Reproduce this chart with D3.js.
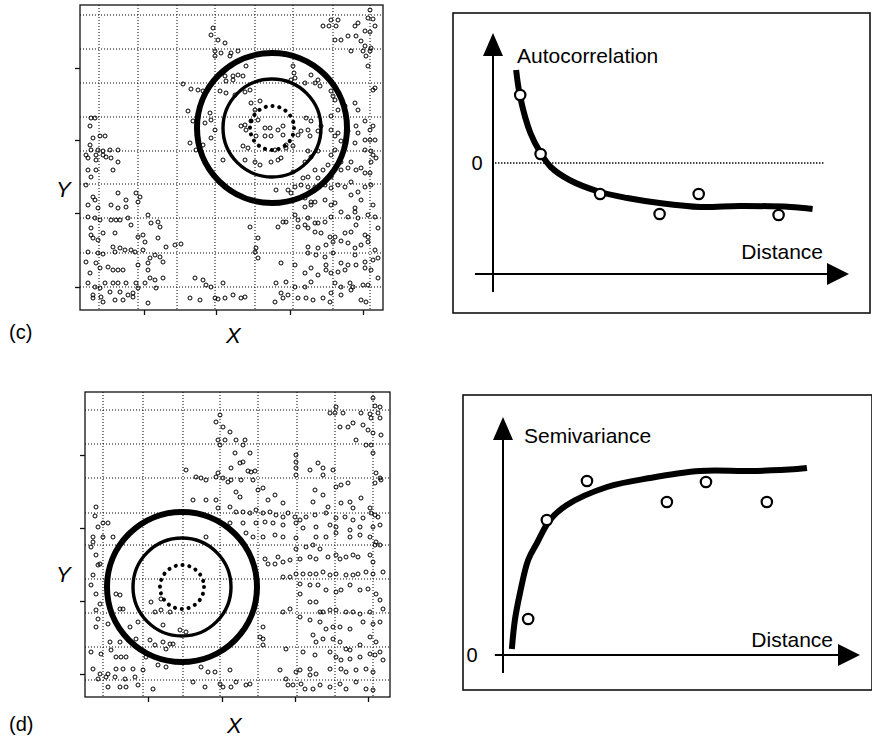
<!DOCTYPE html>
<html>
<head>
<meta charset="utf-8">
<script src="https://cdn.jsdelivr.net/npm/d3@7"></script>
<style>
body { margin: 0; background: #fff; }
svg { display: block; font-family: "Liberation Sans", Arial, Helvetica, sans-serif; }
</style>
</head>
<body>
<svg width="872" height="751"></svg>
<script>
// ---- data: point locations (X, Y) for panel (c)
var pointsC = [
 [290,300],[251,290],[258,290],[288,292],[293,291],[243,284],[249,284],[256,284],[275,284],[285,279],
 [290,278],[295,284],[278,287],[255,270],[261,270],[268,274],[276,274],[281,269],[285,264],[291,262],
 [283,259],[286,254],[290,259],[271,259],[288,244],[295,222],[293,220],[133,282],[131,275],[138,270],
 [145,267],[135,259],[135,254],[141,257],[151,257],[158,259],[150,254],[166,244],[158,235],[163,234],
 [153,234],[146,229],[145,234],[153,230],[103,226],[111,221],[118,220],[123,219],[140,219],[146,217],
 [155,215],[165,218],[170,220],[213,244],[214,237],[215,232],[211,230],[231,235],[235,227],[238,230],
 [240,224],[225,227],[251,219],[255,210],[253,214],[278,200],[265,204],[258,200],[275,207],[180,209],
 [171,207],[175,200],[178,190],[171,189],[165,185],[161,184],[166,180],[185,182],[190,182],[198,180],
 [203,184],[203,175],[191,174],[185,174],[176,174],[163,164],[168,162],[206,165],[213,164],[218,175],
 [221,179],[228,180],[230,174],[238,179],[241,184],[251,194],[226,192],[231,189],[206,162],[195,160],
 [108,199],[113,189],[125,187],[130,197],[131,190],[135,180],[131,172],[110,167],[123,165],[116,160],
 [251,180],[255,174],[258,177],[261,169],[268,179],[276,184],[278,177],[275,167],[285,189],[290,180],
 [293,184],[285,170],[290,170],[295,170],[285,160],[291,159],[293,155],[255,160],[251,155],[238,159],
 [228,159],[11,192],[15,192],[10,184],[13,172],[20,174],[25,174],[10,165],[11,160],[18,160],
 [23,159],[30,160],[38,160],[6,155],[16,155],[23,155],
 [8,152],[16,150],[26,153],[31,152],[38,148],[33,140],[8,140],[16,140],[11,133],[6,125],
 [13,113],[15,110],[8,105],[18,102],[31,105],[38,102],[38,117],[46,110],[46,103],[58,108],
 [56,117],[60,113],[48,92],[51,85],[8,93],[15,92],[20,90],[31,90],[36,90],[40,90],
 [68,95],[71,87],[78,88],[80,83],[11,82],[11,75],[13,72],[18,70],[23,77],[35,77],
 [58,73],[63,75],[65,68],[78,72],[86,63],[95,65],[101,66],[8,58],[18,57],[23,56],
 [33,63],[35,58],[40,62],[45,60],[51,60],[55,58],[63,60],[75,55],[80,53],[70,52],
 [68,47],[83,48],[6,48],[16,47],[10,37],[20,42],[28,43],[33,40],[38,40],[43,40],
 [58,45],[68,40],[70,32],[75,30],[83,32],[8,27],[15,23],[20,22],[25,27],[33,27],
 [38,27],[46,27],[56,27],[65,27],[76,22],[13,15],[21,13],[30,18],[40,18],[48,15],
 [53,17],[58,22],[13,12],[23,8],[35,10],[43,10],[53,13],[68,7],[115,32],[123,30],
 [126,25],[131,23],[143,27],[110,12],[120,10],[135,12],[138,11],[145,12],[153,15],[161,12],
 [165,13],[170,83],[178,72],[176,62],[175,58],[178,52],[195,8],[201,17],[203,12],[196,27],
 [206,28],[198,83],[203,88],[206,88],[215,95],[218,90],[228,92],[225,85],[235,87],[238,87],
 [245,88],[251,93],[261,98],[268,93],[275,98],[278,92],[288,95],[295,93],[218,83],[228,82],
 [235,78],[241,77],[250,73],[255,73],[265,77],[271,78],[276,85],[285,75],[288,73],[298,82],
 [228,63],[238,62],[246,65],[253,68],[261,69],[268,67],[275,62],[281,65],[288,68],[295,60],
 [298,52],[228,57],[236,55],[245,53],[253,57],[261,47],[268,45],[275,55],[285,48],[293,50],
 [201,47],[215,45],[231,42],[246,45],[251,37],[258,38],[265,40],[276,45],[285,42],[291,40],
 [298,32],[225,37],[238,35],[246,40],[231,28],[215,23],[225,23],[255,27],[261,23],[270,27],
 [273,23],[283,25],[288,25],[208,15],[218,12],[226,12],[233,10],[243,12],[251,17],[261,15],
 [271,20],[281,10],[286,8],[250,8],
 [196,120],[208,120],[211,117],[215,123],[221,125],[228,123],[235,123],[245,125],[251,122],[258,125],
 [265,123],[271,115],[278,118],[285,123],[291,125],[225,112],[231,108],[235,108],[245,110],[251,105],
 [255,107],[275,102],[281,110],[293,105],[225,103],[231,105],[235,140],[243,140],[248,145],[261,140],
 [268,142],[276,140],[281,142],[285,137],[290,137],[291,148],[296,152],[271,148],[261,148],[225,148],
 [198,150],[201,152],[143,150],[165,150],[175,148],[180,145],[191,148],[213,138],[223,132],[228,133],
 [238,132],[251,133],[271,128],[231,153]
];

// ---- data: point locations (X, Y) for panel (d)
var pointsD = [
 [288,299],[290,291],[295,290],[251,290],[245,284],[250,284],[258,284],[276,284],[285,283],[293,284],
 [286,279],[295,279],[255,270],[263,270],[268,274],[278,272],[283,267],[288,264],[296,262],[271,257],
 [281,252],[286,252],[288,244],[291,224],[295,219],[290,214],[135,282],[131,275],[138,270],[145,265],
 [133,257],[135,252],[140,257],[151,257],[160,257],[158,252],[165,244],[150,244],[155,234],[146,229],
 [158,235],[163,226],[166,225],[170,226],[101,227],[111,220],[116,219],[121,217],[131,220],[133,224],
 [138,219],[143,215],[146,217],[156,217],[168,217],[173,207],[178,209],[151,205],[155,200],[190,202],
 [183,197],[198,194],[211,242],[211,235],[211,229],[211,222],[225,227],[233,234],[238,229],[248,227],
 [238,222],[251,210],[256,212],[263,214],[230,207],[238,202],[228,195],[243,190],[256,194],[265,195],
 [268,189],[276,199],[285,189],[290,182],[293,180],[296,217],[108,197],[121,197],[131,197],[133,189],
 [145,190],[151,185],[158,185],[165,184],[171,187],[178,184],[185,185],[191,182],[198,180],[203,184],
 [210,180],[215,177],[221,180],[230,182],[241,184],[251,179],[260,180],[268,177],[278,179],[286,184],
 [145,174],[158,174],[171,174],[180,175],[188,174],[198,172],[211,174],[218,169],[231,170],[245,172],
 [251,170],[265,167],[275,170],[288,170],[295,172],[161,164],[168,160],[178,160],[190,162],[198,160],
 [211,159],[231,160],[241,160],[251,164],[265,160],[275,162],[285,160],[291,155],[121,160],[11,190],
 [10,181],[18,174],[23,174],[13,170],[8,160],[18,160],[28,160],[8,155],
 [6,150],[11,142],[15,133],[13,132],[8,122],[6,112],[11,103],[15,93],[11,87],[13,78],
 [11,70],[23,73],[25,55],[35,55],[6,45],[16,43],[26,47],[31,40],[36,40],[41,40],
 [8,28],[15,23],[23,23],[31,28],[38,28],[48,28],[58,27],[13,18],[21,20],[30,20],
 [40,18],[50,20],[23,10],[35,10],[41,10],[53,12],[68,8],[31,103],[35,102],[35,88],
 [38,88],[45,70],[51,58],[53,75],[66,95],[76,98],[70,85],[76,87],[85,85],[78,72],
 [95,67],[101,65],[65,57],[70,52],[78,55],[85,53],[81,48],[88,53],[73,32],[81,30],
 [61,40],[116,30],[123,25],[130,25],[145,27],[108,15],[120,10],[135,13],[138,10],[146,10],
 [151,15],[161,12],[165,13],[178,70],[178,58],[175,60],[178,52],[180,138],[183,133],[190,133],
 [198,135],[193,140],[205,137],[198,120],[205,120],[211,123],[198,85],[205,88],[195,27],[201,18],
 [203,12],[215,27],[216,13],[225,22],[211,148],[221,150],[228,152],[235,148],[215,138],[225,140],
 [231,138],[243,140],[251,142],[255,138],[261,140],[268,142],[273,140],[285,142],[288,135],[290,152],
 [295,152],[218,123],[225,123],[231,123],[238,125],[245,122],[251,123],[261,122],[268,122],[273,123],
 [281,125],[288,123],[298,125],[215,113],[225,112],[233,112],[241,107],[251,105],[256,107],[265,112],
 [275,107],[283,108],[291,103],[295,97],[215,103],[225,95],[231,95],[235,85],[238,85],[245,87],
 [251,87],[261,85],[268,85],[275,83],[285,85],[298,88],[215,80],[225,77],[235,75],[241,68],
 [248,70],[255,70],[265,68],[278,75],[288,73],[295,75],[228,62],[231,55],[238,58],[248,58],
 [255,55],[261,48],[265,47],[275,52],[285,60],[291,55],[295,45],[201,48],[218,45],[230,42],
 [245,45],[251,40],[256,37],[265,38],[275,40],[285,43],[290,42],[298,37],[211,25],[225,28],
 [231,23],[245,28],[256,28],[261,25],[271,27],[281,28],[288,25],[208,12],[220,8],[228,8],
 [235,12],[245,10],[255,13],[261,8],[271,15],[281,8],[288,7]
];

// grid lines and ticks (same X, Y units)
var gridXC = [19, 58, 97, 135, 175, 213, 253, 290];
var gridYC = [23, 57, 92, 126, 159, 193, 227, 261, 295];
var tickXC = [64, 136, 210, 283];
var tickYC = [23, 97, 170, 242];
var gridXD = [18, 58, 98, 135, 173, 212, 250, 288];
var gridYD = [17, 50, 84, 118, 152, 184, 219, 253, 287];
var tickXD = [63, 137, 210, 283];
var tickYD = [23, 96, 169, 242];

// neighbourhood rings: centre and radii
var centerC = [192, 182];
var centerD = [97, 110];
var ringRadii = [75, 49, 22];

// correlogram (c): fitted curve and lag estimates
var acfCurveDist = [0.68, 0.8, 1.1, 1.4, 1.7, 2.25, 3.15, 3.95, 4.9, 6.1, 7.25, 8.75, 9.4];
var acfCurveVal  = [0.93, 0.66, 0.30, 0.10, -0.04, -0.17, -0.29, -0.35, -0.40, -0.44, -0.43, -0.44, -0.46];
var acfDist = [0.8, 1.4, 3.15, 4.9, 6.05, 8.4];
var acfVal  = [0.68, 0.09, -0.31, -0.51, -0.31, -0.52];

// semivariogram (d): fitted curve and lag estimates
var svCurveDist = [0.26, 0.35, 0.5, 0.74, 1.0, 1.38, 1.88, 3.06, 4.32, 5.79, 7.26, 8.65, 8.94];
var svCurveVal  = [0.03, 0.175, 0.31, 0.475, 0.56, 0.675, 0.75, 0.84, 0.885, 0.92, 0.92, 0.93, 0.935];
var svDist = [0.74, 1.29, 2.47, 4.82, 5.97, 7.76];
var svVal  = [0.18, 0.675, 0.87, 0.765, 0.865, 0.765];

var svg = d3.select('svg');

function drawScatter(pts, gx, gy, tx, ty, center, box, labels) {
    var x = d3.scaleLinear().domain([0, box.w]).range([box.x, box.x + box.w]);
    var y = d3.scaleLinear().domain([0, box.h]).range([box.y + box.h, box.y]);
    var g = svg.append('g');

    // dotted grid
    g.selectAll('.gx').data(gx).enter().append('line')
        .attr('x1', d => x(d)).attr('x2', d => x(d))
        .attr('y1', box.y).attr('y2', box.y + box.h)
        .attr('stroke', '#000').attr('stroke-width', 1)
        .attr('stroke-dasharray', '1 2');
    g.selectAll('.gy').data(gy).enter().append('line')
        .attr('y1', d => y(d)).attr('y2', d => y(d))
        .attr('x1', box.x).attr('x2', box.x + box.w)
        .attr('stroke', '#000').attr('stroke-width', 1)
        .attr('stroke-dasharray', '1 2');

    // points
    g.selectAll('.pt').data(pts).enter().append('circle')
        .attr('cx', d => x(d[0])).attr('cy', d => y(d[1]))
        .attr('r', 2)
        .attr('fill', 'none').attr('stroke', '#000').attr('stroke-width', 1);

    // frame
    g.append('rect')
        .attr('x', box.x).attr('y', box.y).attr('width', box.w).attr('height', box.h)
        .attr('fill', 'none').attr('stroke', '#111').attr('stroke-width', 1.3);

    // ticks
    var ax = g.append('g').attr('transform', 'translate(0,' + (box.y + box.h) + ')')
        .call(d3.axisBottom(x).tickValues(tx).tickSize(5).tickFormat(''));
    var ay = g.append('g').attr('transform', 'translate(' + box.x + ',0)')
        .call(d3.axisLeft(y).tickValues(ty).tickSize(5).tickFormat(''));
    [ax, ay].forEach(function (a) {
        a.select('.domain').remove();
        a.selectAll('line').attr('stroke', '#111').attr('stroke-width', 1.3);
    });

    // rings
    var widths = [6, 3.4, 4];
    ringRadii.forEach(function (r, i) {
        var c = g.append('circle')
            .attr('cx', x(center[0])).attr('cy', y(center[1]))
            .attr('r', x(r) - x(0))
            .attr('fill', 'none').attr('stroke', '#000')
            .attr('stroke-width', widths[i]);
        if (i === 2) {
            c.attr('stroke-dasharray', '0.1 6.8').attr('stroke-linecap', 'round');
        }
    });

    svg.append('text').attr('x', labels.yx).attr('y', labels.yy)
        .attr('font-size', 22).attr('font-style', 'italic').text('Y');
    svg.append('text').attr('x', labels.xx).attr('y', labels.xy)
        .attr('font-size', 22).attr('font-style', 'italic').text('X');
    svg.append('text').attr('x', 9).attr('y', labels.py)
        .attr('font-size', 20).text(labels.panel);
}

drawScatter(pointsC, gridXC, gridYC, tickXC, tickYC, centerC,
    {x: 80, y: 5, w: 303, h: 305},
    {yx: 56, yy: 197, xx: 226, xy: 343, py: 339, panel: '(c)'});
drawScatter(pointsD, gridXD, gridYD, tickXD, tickYD, centerD,
    {x: 85, y: 392, w: 305, h: 305},
    {yx: 56, yy: 582, xx: 227, xy: 733, py: 731, panel: '(d)'});

function drawCurvePanel(o) {
    var x = d3.scaleLinear().domain([0, 10]).range(o.xRange);
    var y = d3.scaleLinear().domain([0, 1]).range(o.yRange);
    var g = svg.append('g');

    g.append('rect').attr('x', o.box[0]).attr('y', o.box[1])
        .attr('width', o.box[2]).attr('height', o.box[3])
        .attr('fill', 'none').attr('stroke', '#111').attr('stroke-width', 1.6);

    // axes with arrow heads
    var ox = x(0), oy = y(o.axisVal);
    var top = y(o.yTip), right = x(o.xTip);
    g.append('line').attr('x1', ox).attr('x2', ox)
        .attr('y1', y(o.yBottom)).attr('y2', top + 20)
        .attr('stroke', '#000').attr('stroke-width', 2);
    g.append('line').attr('x1', x(o.xLeft)).attr('x2', right - 20)
        .attr('y1', oy).attr('y2', oy)
        .attr('stroke', '#000').attr('stroke-width', 2);
    g.append('path')
        .attr('d', 'M' + ox + ',' + top + 'L' + (ox - 10) + ',' + (top + 23) + 'L' + (ox + 10) + ',' + (top + 23) + 'Z')
        .attr('fill', '#000');
    g.append('path')
        .attr('d', 'M' + right + ',' + oy + 'L' + (right - 22) + ',' + (oy - 11) + 'L' + (right - 22) + ',' + (oy + 11) + 'Z')
        .attr('fill', '#000');

    if (o.zeroLine) {
        g.append('line').attr('x1', x(0.06)).attr('x2', x(9.76))
            .attr('y1', y(0)).attr('y2', y(0))
            .attr('stroke', '#000').attr('stroke-width', 1.4)
            .attr('stroke-dasharray', '1.4 1.6');
    }

    var curve = o.curveDist.map((d, i) => [d, o.curveVal[i]]);
    g.append('path').datum(curve)
        .attr('d', d3.line().x(d => x(d[0])).y(d => y(d[1])).curve(d3.curveCatmullRom))
        .attr('fill', 'none').attr('stroke', '#000').attr('stroke-width', 6);

    var pts = o.dist.map((d, i) => [d, o.val[i]]);
    g.selectAll('.dot').data(pts).enter().append('circle')
        .attr('cx', d => x(d[0])).attr('cy', d => y(d[1])).attr('r', 5.2)
        .attr('fill', '#fff').attr('stroke', '#000').attr('stroke-width', 2.2);

    g.append('text').attr('x', o.zeroX).attr('y', y(0) + 7)
        .attr('text-anchor', 'middle').attr('font-size', 20).text('0');
    g.append('text').attr('x', o.titlePos[0]).attr('y', o.titlePos[1])
        .attr('font-size', 21).text(o.title);
    g.append('text').attr('x', o.distPos[0]).attr('y', o.distPos[1])
        .attr('text-anchor', 'end').attr('font-size', 21).text('Distance');
}

drawCurvePanel({
    box: [453, 13, 417, 300], xRange: [493, 833], yRange: [163, 63],
    axisVal: -1.11, yTip: 1.3, yBottom: -1.29, xTip: 10.47, xLeft: -0.53,
    zeroLine: true, zeroX: 477,
    curveDist: acfCurveDist, curveVal: acfCurveVal, dist: acfDist, val: acfVal,
    title: 'Autocorrelation', titlePos: [517, 63], distPos: [823, 259]
});
drawCurvePanel({
    box: [463, 395, 409, 295], xRange: [503, 843], yRange: [655, 455],
    axisVal: 0, yTip: 1.19, yBottom: -0.09, xTip: 10.5, xLeft: -0.24,
    zeroLine: false, zeroX: 472,
    curveDist: svCurveDist, curveVal: svCurveVal, dist: svDist, val: svVal,
    title: 'Semivariance', titlePos: [524, 443], distPos: [833, 647]
});
</script>
</body>
</html>
